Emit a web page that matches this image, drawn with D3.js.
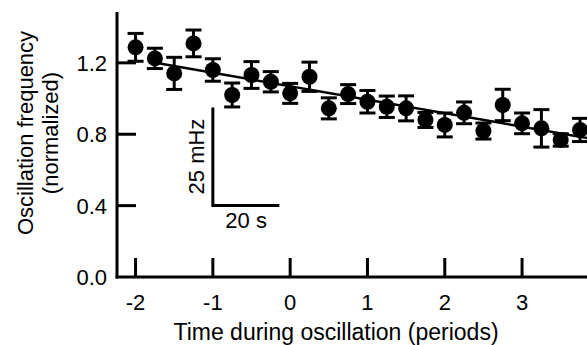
<!DOCTYPE html>
<html>
<head>
<meta charset="utf-8">
<script src="https://cdn.jsdelivr.net/npm/d3@7"></script>
<style>
  html, body { margin: 0; padding: 0; background: #fff; }
  svg text { font-family: "Liberation Sans", Arial, sans-serif; fill: #000; }
</style>
</head>
<body>
<div id="chart"></div>
<script>
// time during oscillation (periods)
const times = [-2, -1.75, -1.5, -1.25, -1, -0.75, -0.5, -0.25, 0, 0.25, 0.5, 0.75,
               1, 1.25, 1.5, 1.75, 2, 2.25, 2.5, 2.75, 3, 3.25, 3.5, 3.75];
// normalized oscillation frequency
const freqs = [1.287, 1.225, 1.141, 1.309, 1.160, 1.020, 1.132, 1.094, 1.029, 1.122, 0.945, 1.025,
               0.982, 0.954, 0.945, 0.880, 0.852, 0.920, 0.818, 0.964, 0.861, 0.833, 0.768, 0.824];
// error bar half-heights
const errs = [0.078, 0.057, 0.090, 0.075, 0.063, 0.067, 0.075, 0.057, 0.056, 0.082, 0.059, 0.053,
              0.063, 0.060, 0.070, 0.042, 0.067, 0.061, 0.045, 0.088, 0.058, 0.105, 0.035, 0.065];
// linear fit
const fitX = [-1.8, 3.84];
const fitY = [1.205, 0.779];

const xTicks = [-2, -1, 0, 1, 2, 3];
const yTicks = [0.0, 0.4, 0.8, 1.2];

// scale bar: 25 mHz by 20 s
const barOrigin = [-1, 0.4];
const barSize = [0.86, 0.55];

const width = 587, height = 345;
const x = d3.scaleLinear().domain([-2.24, 3.84]).range([117, 587]);
const y = d3.scaleLinear().domain([0, 1.485]).range([277, 12]);

const svg = d3.select('#chart').append('svg')
    .attr('width', width)
    .attr('height', height);

// axes lines
svg.append('line')
    .attr('x1', x.range()[0]).attr('x2', x.range()[0])
    .attr('y1', y.range()[1]).attr('y2', y.range()[0] + 1.5)
    .attr('stroke', '#000').attr('stroke-width', 3);
svg.append('line')
    .attr('x1', x.range()[0] - 1.5).attr('x2', x.range()[1])
    .attr('y1', y.range()[0]).attr('y2', y.range()[0])
    .attr('stroke', '#000').attr('stroke-width', 3);

// inward ticks
const tickLen = 19;
svg.append('g').selectAll('line')
    .data(yTicks.filter(d => d > 0))
    .join('line')
    .attr('x1', x.range()[0]).attr('x2', x.range()[0] + tickLen)
    .attr('y1', d => y(d)).attr('y2', d => y(d))
    .attr('stroke', '#000').attr('stroke-width', 3);

svg.append('g').selectAll('line')
    .data(xTicks)
    .join('line')
    .attr('x1', d => x(d)).attr('x2', d => x(d))
    .attr('y1', y.range()[0]).attr('y2', y.range()[0] - tickLen)
    .attr('stroke', '#000').attr('stroke-width', 3);

// tick labels
svg.append('g').selectAll('text')
    .data(yTicks)
    .join('text')
    .attr('x', 107)
    .attr('y', d => y(d))
    .attr('dy', '0.36em')
    .attr('text-anchor', 'end')
    .style('font-size', '22px')
    .text(d => d.toFixed(1));

svg.append('g').selectAll('text')
    .data(xTicks)
    .join('text')
    .attr('x', d => x(d))
    .attr('y', 310)
    .attr('text-anchor', 'middle')
    .style('font-size', '22px')
    .text(d => d);

// axis titles
svg.append('text')
    .attr('x', 336)
    .attr('y', 340)
    .attr('text-anchor', 'middle')
    .style('font-size', '23px')
    .text('Time during oscillation (periods)');

const yTitle = svg.append('text')
    .attr('transform', 'translate(33,133) rotate(-90)')
    .attr('text-anchor', 'middle')
    .style('font-size', '22px');
yTitle.append('tspan').attr('x', 0).attr('y', 0).text('Oscillation frequency');
yTitle.append('tspan').attr('x', 0).attr('y', 25).text('(normalized)');

// fit line
svg.append('path')
    .datum(fitX.map((d, i) => [d, fitY[i]]))
    .attr('fill', 'none')
    .attr('stroke', '#000')
    .attr('stroke-width', 2.5)
    .attr('d', d3.line().x(d => x(d[0])).y(d => y(d[1])));

// error bars and points
const pts = times.map((t, i) => ({t: t, v: freqs[i], e: errs[i]}));
const capW = 8;
const g = svg.append('g').attr('stroke', '#000').attr('stroke-width', 3);
g.selectAll('.stem').data(pts).join('line')
    .attr('class', 'stem')
    .attr('x1', d => x(d.t)).attr('x2', d => x(d.t))
    .attr('y1', d => y(d.v - d.e)).attr('y2', d => y(d.v + d.e));
g.selectAll('.capTop').data(pts).join('line')
    .attr('class', 'capTop')
    .attr('x1', d => x(d.t) - capW).attr('x2', d => x(d.t) + capW)
    .attr('y1', d => y(d.v + d.e)).attr('y2', d => y(d.v + d.e));
g.selectAll('.capBot').data(pts).join('line')
    .attr('class', 'capBot')
    .attr('x1', d => x(d.t) - capW).attr('x2', d => x(d.t) + capW)
    .attr('y1', d => y(d.v - d.e)).attr('y2', d => y(d.v - d.e));

svg.append('g').selectAll('circle')
    .data(pts)
    .join('circle')
    .attr('cx', d => x(d.t))
    .attr('cy', d => y(d.v))
    .attr('r', 8)
    .attr('fill', '#000');

// scale bar
const bx = x(barOrigin[0]), by = y(barOrigin[1]);
const bx2 = x(barOrigin[0] + barSize[0]), by2 = y(barOrigin[1] + barSize[1]);
svg.append('path')
    .attr('d', `M${bx},${by2}L${bx},${by}L${bx2},${by}`)
    .attr('fill', 'none')
    .attr('stroke', '#000')
    .attr('stroke-width', 3);
svg.append('text')
    .attr('x', (bx + bx2) / 2)
    .attr('y', by + 22)
    .attr('text-anchor', 'middle')
    .style('font-size', '22px')
    .text('20 s');
svg.append('text')
    .attr('transform', `translate(${bx - 9},${(by + by2) / 2}) rotate(-90)`)
    .attr('text-anchor', 'middle')
    .style('font-size', '22px')
    .text('25 mHz');
</script>
</body>
</html>
